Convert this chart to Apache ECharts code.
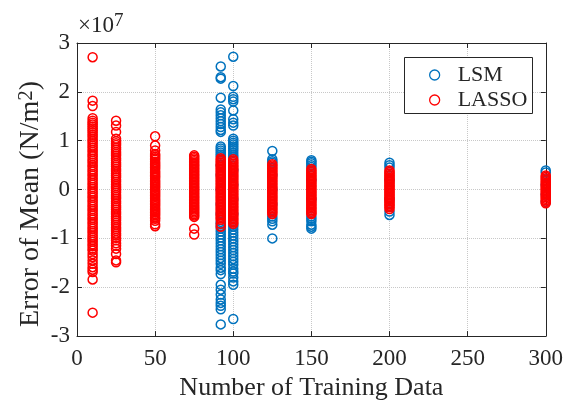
<!DOCTYPE html>
<html lang="en">
<head>
  <meta charset="UTF-8">
  <title>Error of Mean</title>
  <style>
    html, body { margin: 0; padding: 0; background: #fff; }
    #chart { width: 566px; height: 406px; }
  </style>
</head>
<body>
<div id="chart"></div>
<script src="https://cdn.jsdelivr.net/npm/echarts@6/dist/echarts.min.js"></script>
<script>
  // training set sizes (x positions of the columns)
  const trainSizes = [10, 25, 50, 75, 92, 100, 125, 150, 200, 300];
  const xTicks = [0, 50, 100, 150, 200, 250, 300];
  const yTicks = [-3, -2, -1, 0, 1, 2, 3];

  // error of mean, in units of 1e7 N/m^2, one list per training size
  const lsm10 = [];
  const lsm25 = [];
  const lsm50 = [];
  const lsm75 = [];
  const lsm92 = [2.52, 2.3, 2.27, 1.88, 1.64, 1.58, 1.52, 1.46, 1.4, 1.34, 1.28, 1.22, 1.18, 0.88, 0.84, 0.8, 0.76,
    0.72, 0.68, 0.5, 0.3, 0, -0.3, -0.5, -0.66, -0.7, -0.75, -0.8, -0.86, -0.92, -0.98, -1.04, -1.1, -1.16, -1.22,
    -1.28, -1.34, -1.4, -1.46, -1.52, -1.6, -1.65, -1.73, -1.95, -2.05, -2.15, -2.25, -2.32, -2.38, -2.45, -2.76];
  const lsm100 = [2.72, 2.12, 1.9, 1.85, 1.8, 1.62, 1.44, 1.37, 1.31, 1.04, 1.0, 0.96, 0.92, 0.88, 0.84, 0.8, 0.75,
    0.7, 0.66, 0.4, 0.1, -0.2, -0.5, -0.72, -0.76, -0.82, -0.88, -0.94, -1.0, -1.06, -1.12, -1.18, -1.24, -1.3,
    -1.36, -1.42, -1.48, -1.54, -1.62, -1.68, -1.72, -1.8, -1.88, -1.95, -2.65];
  const lsm125 = [0.79, 0.62, 0.58, 0.55, 0.3, 0, -0.3, -0.55, -0.6, -0.65, -0.72, -1.0];
  const lsm150 = [0.6, 0.57, 0.54, 0.5, 0.46, 0.2, -0.2, -0.55, -0.6, -0.65, -0.72, -0.76, -0.8];
  const lsm200 = [0.55, 0.5, 0.45, 0.2, -0.2, -0.45, -0.52];
  const lsm300 = [0.39, 0.35, 0.1, -0.1, -0.25];

  const lasso10 = [2.71, 1.82, 1.71, 1.46, 1.41, 1.37, 1.33, 1.29, 1.25, 1.21, 1.17, 1.12, 1.08, 1.03, 0.99, 0.95,
    0.9, 0.86, 0.81, 0.77, 0.72, 0.68, 0.63, 0.59, 0.55, 0.5, 0.46, 0.41, 0.37, 0.32, 0.28, 0.23, 0.19, 0.14, 0.1,
    0.05, 0.01, -0.04, -0.08, -0.13, -0.17, -0.22, -0.26, -0.31, -0.35, -0.4, -0.44, -0.49, -0.53, -0.58, -0.62,
    -0.67, -0.71, -0.76, -0.8, -0.85, -0.89, -0.94, -0.98, -1.03, -1.07, -1.12, -1.16, -1.21, -1.25, -1.32, -1.38,
    -1.45, -1.52, -1.59, -1.64, -1.69, -1.84, -2.52];
  const lasso25 = [1.41, 1.31, 1.18, 1.04, 0.99, 0.95, 0.91, 0.86, 0.82, 0.77, 0.73, 0.69, 0.64, 0.6, 0.55, 0.51,
    0.47, 0.42, 0.38, 0.33, 0.29, 0.25, 0.2, 0.16, 0.11, 0.07, 0.03, -0.02, -0.06, -0.11, -0.15, -0.19, -0.24, -0.28,
    -0.33, -0.37, -0.41, -0.46, -0.5, -0.55, -0.59, -0.63, -0.68, -0.72, -0.77, -0.81, -0.85, -0.9, -0.94, -0.99,
    -1.04, -1.1, -1.15, -1.21, -1.32, -1.45, -1.49];
  const lasso50 = [1.09, 0.9, 0.8, 0.73, 0.7, 0.67, 0.64, 0.61, 0.57, 0.54, 0.51, 0.48, 0.45, 0.42, 0.38, 0.35, 0.32,
    0.29, 0.26, 0.23, 0.19, 0.16, 0.13, 0.1, 0.07, 0.04, 0, -0.03, -0.06, -0.09, -0.12, -0.15, -0.19, -0.22, -0.25,
    -0.28, -0.31, -0.34, -0.38, -0.41, -0.44, -0.47, -0.5, -0.53, -0.57, -0.6, -0.64, -0.71, -0.75];
  const lasso75 = [0.7, 0.67, 0.64, 0.61, 0.58, 0.55, 0.52, 0.49, 0.46, 0.43, 0.4, 0.37, 0.34, 0.31, 0.28, 0.25, 0.22,
    0.19, 0.16, 0.13, 0.1, 0.07, 0.04, 0.01, -0.02, -0.05, -0.08, -0.11, -0.14, -0.17, -0.2, -0.23, -0.26, -0.29,
    -0.32, -0.35, -0.38, -0.41, -0.44, -0.47, -0.5, -0.53, -0.56, -0.8, -0.92];
  const lasso92 = [0.64, 0.61, 0.58, 0.55, 0.52, 0.49, 0.46, 0.43, 0.4, 0.37, 0.34, 0.31, 0.28, 0.25, 0.22, 0.19, 0.16,
    0.13, 0.1, 0.07, 0.04, 0.01, -0.02, -0.05, -0.08, -0.11, -0.14, -0.17, -0.2, -0.23, -0.26, -0.29, -0.32, -0.35,
    -0.38, -0.41, -0.44, -0.47, -0.5, -0.53, -0.56, -0.59, -0.62, -0.7, -0.76];
  const lasso100 = [0.62, 0.59, 0.56, 0.53, 0.5, 0.47, 0.44, 0.41, 0.38, 0.35, 0.32, 0.29, 0.26, 0.23, 0.2, 0.17, 0.14,
    0.11, 0.08, 0.05, 0.02, -0.01, -0.04, -0.07, -0.1, -0.13, -0.16, -0.19, -0.22, -0.25, -0.28, -0.31, -0.34, -0.37,
    -0.4, -0.43, -0.46, -0.49, -0.52, -0.55, -0.58, -0.61, -0.64, -0.67, -0.7];
  const lasso125 = [0.52, 0.49, 0.46, 0.43, 0.4, 0.37, 0.34, 0.31, 0.28, 0.25, 0.22, 0.19, 0.16, 0.13, 0.1, 0.07, 0.04,
    0.01, -0.02, -0.05, -0.08, -0.11, -0.14, -0.17, -0.2, -0.23, -0.26, -0.29, -0.32, -0.35, -0.38, -0.41, -0.44,
    -0.47, -0.5];
  const lasso150 = [0.42, 0.39, 0.36, 0.33, 0.3, 0.27, 0.24, 0.21, 0.18, 0.15, 0.12, 0.09, 0.06, 0.03, 0, -0.03, -0.06,
    -0.09, -0.12, -0.15, -0.18, -0.21, -0.24, -0.27, -0.3, -0.33, -0.36, -0.39, -0.42, -0.45, -0.48, -0.5];
  const lasso200 = [0.39, 0.36, 0.33, 0.3, 0.27, 0.24, 0.21, 0.18, 0.15, 0.12, 0.09, 0.06, 0.03, 0, -0.03, -0.06, -0.09,
    -0.12, -0.15, -0.18, -0.21, -0.24, -0.27, -0.3, -0.33, -0.36, -0.4];
  const lasso300 = [0.29, 0.26, 0.23, 0.2, 0.17, 0.14, 0.11, 0.08, 0.05, 0.02, -0.01, -0.04, -0.07, -0.1, -0.13, -0.16,
    -0.19, -0.22, -0.25, -0.28];

  const lsmCols = [lsm10, lsm25, lsm50, lsm75, lsm92, lsm100, lsm125, lsm150, lsm200, lsm300];
  const lassoCols = [lasso10, lasso25, lasso50, lasso75, lasso92, lasso100, lasso125, lasso150, lasso200, lasso300];

  function toPoints(cols) {
    const pts = [];
    cols.forEach((col, i) => {
      col.forEach(v => pts.push([trainSizes[i], v]));
    });
    return pts;
  }

  const FONT = '"Liberation Serif", "Times New Roman", serif';
  const TXT = '#262626';

  const chart = echarts.init(document.getElementById('chart'));

  // top / right copies of the axes: only line and inward ticks (box look)
  const hiddenAxis = {
    axisLabel: { show: false },
    axisLine: { show: true, onZero: false, lineStyle: { color: TXT, width: 1 } },
    axisTick: { show: true, inside: true, length: 5, lineStyle: { color: TXT } },
    splitLine: { show: false }
  };

  chart.setOption({
    animation: false,
    backgroundColor: '#fff',
    grid: { left: 77, right: 20, top: 43, bottom: 66 },
    xAxis: [{
      type: 'value', min: 0, max: 300, interval: 50,
      name: 'Number of Training Data', nameLocation: 'middle', nameGap: 32,
      nameTextStyle: { fontFamily: FONT, fontSize: 26, color: TXT },
      axisLine: { show: true, onZero: false, lineStyle: { color: TXT, width: 1 } },
      axisTick: { show: true, inside: true, length: 5, lineStyle: { color: TXT } },
      axisLabel: { fontFamily: FONT, fontSize: 23, color: TXT, margin: 11,
        formatter: v => xTicks.includes(v) ? String(v) : '' },
      splitLine: { show: true, lineStyle: { color: '#c8c8c8', type: 'dotted', width: 1 } }
    }, Object.assign({ type: 'value', min: 0, max: 300, interval: 50, position: 'top' }, hiddenAxis)],
    yAxis: [{
      type: 'value', min: -3, max: 3, interval: 1,
      axisLine: { show: true, onZero: false, lineStyle: { color: TXT, width: 1 } },
      axisTick: { show: true, inside: true, length: 5, lineStyle: { color: TXT } },
      axisLabel: { fontFamily: FONT, fontSize: 23, color: TXT, margin: 7,
        formatter: v => yTicks.includes(v) ? String(v) : '' },
      splitLine: { show: true, lineStyle: { color: '#c8c8c8', type: 'dotted', width: 1 } }
    }, Object.assign({ type: 'value', min: -3, max: 3, interval: 1, position: 'right' }, hiddenAxis)],
    graphic: [
      {
        // y axis title
        type: 'text', x: 31, y: 204, rotation: Math.PI / 2, z: 10,
        style: {
          text: 'Error of Mean (N/m{sup|2})', fill: TXT, font: '28px ' + FONT,
          align: 'center', verticalAlign: 'middle',
          rich: { sup: { fontFamily: FONT, fontSize: 21, fill: TXT, verticalAlign: 'top', padding: [0, 0, 10, 0] } }
        }
      },
      {
        type: 'text', left: 78, top: 12, z: 10,
        style: {
          text: '×10{sup|7}', fill: TXT, font: '23px ' + FONT,
          rich: { sup: { fontFamily: FONT, fontSize: 19, fill: TXT, verticalAlign: 'top', padding: [0, 0, 8, 0] } }
        }
      },
      {
        type: 'rect', z: 3,
        shape: { x: 404.5, y: 57.5, width: 128, height: 56 },
        style: { fill: '#fff', stroke: TXT, lineWidth: 1 }
      }
    ],
    legend: {
      orient: 'vertical', left: 424, top: 59, z: 10,
      itemWidth: 10, itemHeight: 10, itemGap: 3,
      textStyle: { fontFamily: FONT, fontSize: 22, lineHeight: 22, color: TXT, padding: [0, 0, 0, 13] },
      data: [
        { name: 'LSM', icon: 'circle', itemStyle: { color: 'rgba(0,0,0,0)', borderColor: '#0072BD', borderWidth: 1.3 } },
        { name: 'LASSO', icon: 'circle', itemStyle: { color: 'rgba(0,0,0,0)', borderColor: '#FF0000', borderWidth: 1.3 } }
      ]
    },
    series: [
      {
        name: 'LSM', type: 'scatter', symbol: 'circle', symbolSize: 9, z: 2,
        itemStyle: { color: 'rgba(0,0,0,0)', borderColor: '#0072BD', borderWidth: 1.5, opacity: 1 },
        data: toPoints(lsmCols)
      },
      {
        name: 'LASSO', type: 'scatter', symbol: 'circle', symbolSize: 9, z: 2,
        itemStyle: { color: 'rgba(0,0,0,0)', borderColor: '#FF0000', borderWidth: 1.5, opacity: 1 },
        data: toPoints(lassoCols)
      }
    ]
  });
</script>
</body>
</html>
